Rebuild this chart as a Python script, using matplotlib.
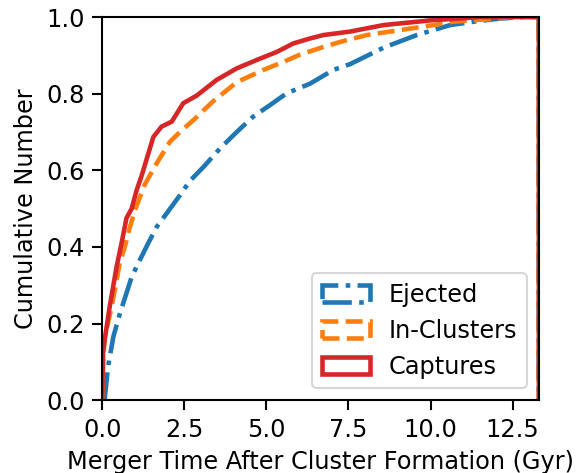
import numpy as np
import matplotlib
matplotlib.use('Agg')
import matplotlib.pyplot as plt

# cumulative fractions (time in Gyr, fraction)
t_ejected = [0, 0.08, 0.18, 0.34, 0.54, 0.74, 0.9, 1.15, 1.40, 1.66, 1.96, 2.37, 2.67, 3.09, 3.59,
             4.10, 4.60, 5.11, 5.62, 6.33, 7.04, 7.55, 8.57, 9.58, 10.6, 11.5, 12.13, 12.8, 13.3]
f_ejected = [0, 0.005, 0.087, 0.165, 0.226, 0.279, 0.322, 0.366, 0.409, 0.452, 0.487, 0.535, 0.572, 0.609, 0.657,
             0.70, 0.74, 0.77, 0.801, 0.826, 0.862, 0.877, 0.92, 0.953, 0.979, 0.99, 0.996, 1.0, 1.0]

t_incluster = [0, 0.03, 0.08, 0.29, 0.44, 0.54, 0.69, 0.84, 1.0, 1.15, 1.3, 1.66, 2.06, 2.37, 2.78, 3.38,
               4.10, 4.91, 5.52, 6.03, 6.74, 7.25, 8.06, 9.08, 10.09, 10.7, 11.72, 12.5, 13.3]
f_incluster = [0, 0.10, 0.165, 0.244, 0.313, 0.36, 0.40, 0.45, 0.496, 0.53, 0.563, 0.618, 0.674, 0.70, 0.731, 0.78,
               0.83, 0.862, 0.883, 0.902, 0.922, 0.935, 0.953, 0.966, 0.979, 0.988, 0.994, 1.0, 1.0]

t_capture = [0, 0.03, 0.23, 0.44, 0.59, 0.74, 0.9, 1.05, 1.2, 1.56, 1.81, 2.12, 2.47, 2.88, 3.49,
             4.10, 4.71, 5.32, 5.82, 6.33, 6.74, 7.55, 8.57, 10.09, 10.9, 11.5, 13.3]
f_capture = [0, 0.13, 0.244, 0.348, 0.409, 0.475, 0.50, 0.548, 0.585, 0.687, 0.714, 0.727, 0.775, 0.795, 0.836,
             0.866, 0.888, 0.909, 0.931, 0.944, 0.953, 0.962, 0.979, 0.992, 0.996, 1.0, 1.0]

t_max = 13.3

fig, ax = plt.subplots(figsize=(587/150, 473/150), dpi=150)
fig.subplots_adjust(left=0.174, right=0.918, top=0.964, bottom=0.154)

series = [(t_ejected, f_ejected, 'C0', '-.', 'Ejected'),
          (t_incluster, f_incluster, 'C1', '--', 'In-Clusters'),
          (t_capture, f_capture, 'C3', '-', 'Captures')]

# step-histogram look: open polygon that drops back to zero at the last edge
for t, f, c, ls, lab in series:
    x = list(t) + [t_max]
    y = list(f) + [0]
    ax.fill(x, y, fill=False, closed=False, edgecolor=c, ls=ls, lw=2.2, label=lab)

ax.set_xlim(0, t_max)
ax.set_ylim(0, 1)
ax.set_xticks(np.arange(0, 13, 2.5))
ax.tick_params(labelsize=11.5, length=5, width=1)
for s in ax.spines.values():
    s.set_linewidth(1)

ax.set_xlabel('Merger Time After Cluster Formation (Gyr)', fontsize=11.5)
ax.set_ylabel('Cumulative Number', fontsize=11.5)
ax.legend(loc='lower right', fontsize=11.5)

plt.savefig('out.png', dpi=150)
